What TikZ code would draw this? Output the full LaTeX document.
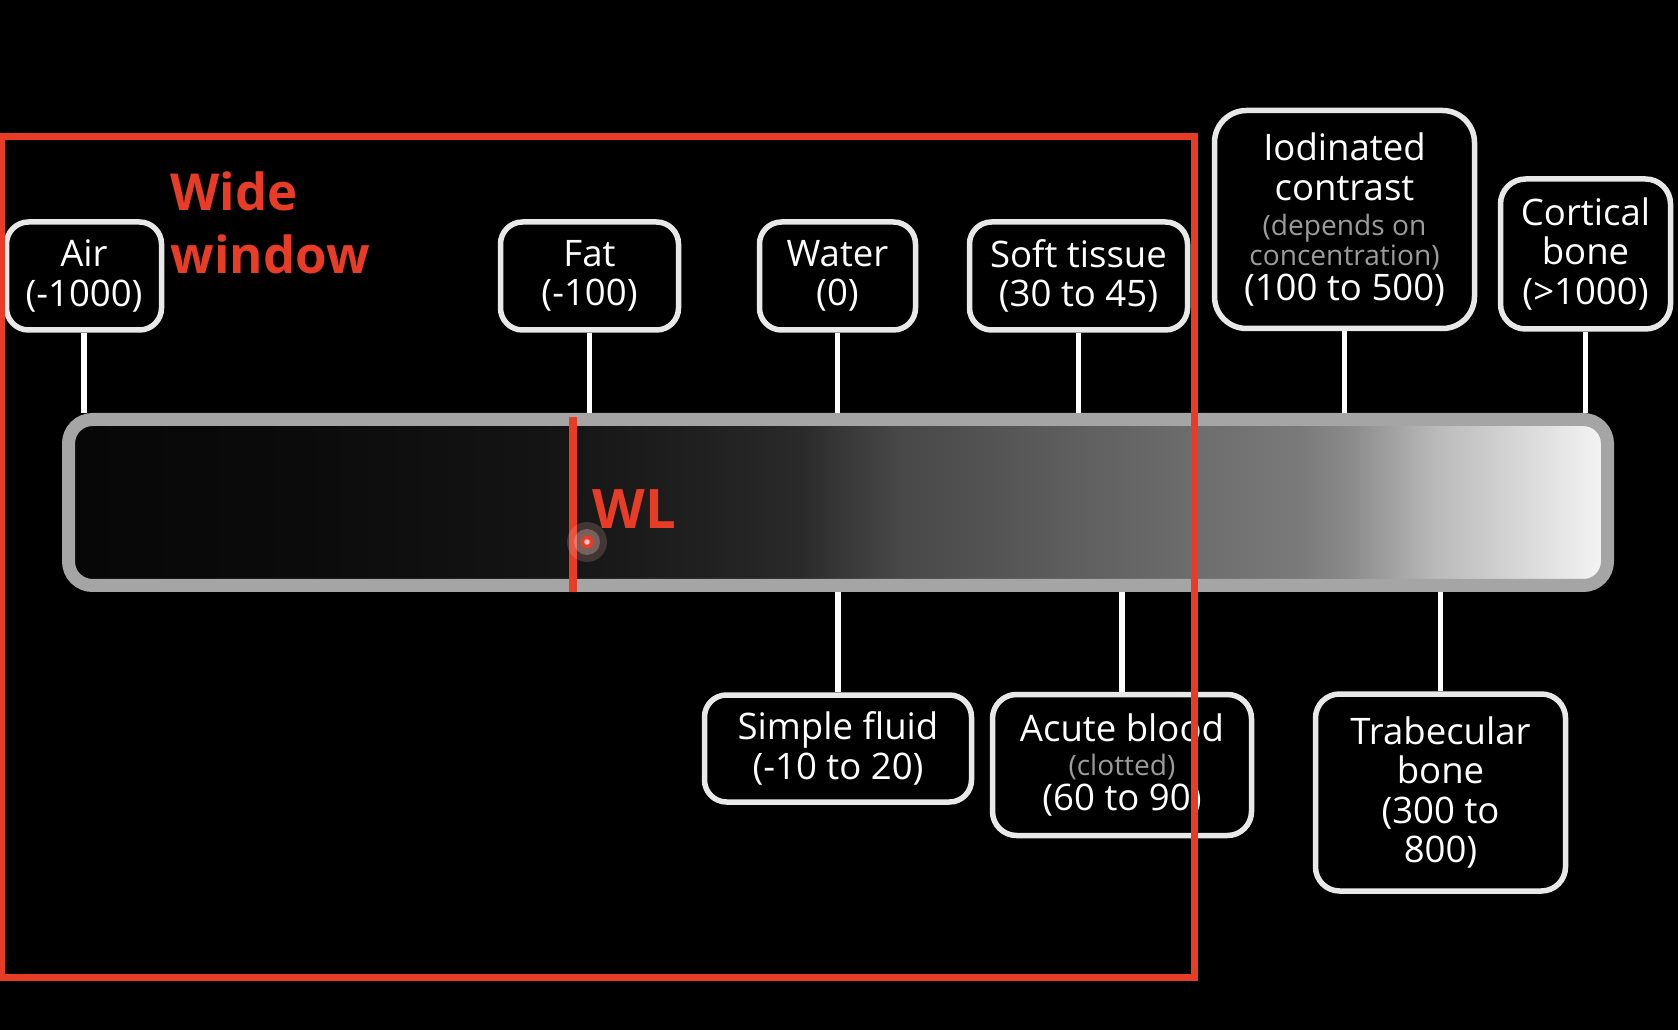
\documentclass[tikz,border=0pt]{standalone}
\usepackage{fontspec}
\setmainfont{Open Sans}
\usepackage{xcolor}
\usepackage{tikz}
\usetikzlibrary{calc}

\definecolor{winred}{RGB}{232,60,38}
\definecolor{boxline}{RGB}{232,232,232}
\definecolor{subgray}{RGB}{155,155,155}
\definecolor{bargray}{RGB}{165,165,165}

\newcommand{\boxfs}{\fontsize{10.4}{11.25}\selectfont}
\newcommand{\subfs}{\fontsize{8}{9}\selectfont\color{subgray}}

\pgfdeclarehorizontalshading{ctbar}{100bp}{rgb(0bp)=(0.027,0.027,0.027); rgb(25.2bp)=(0.027,0.027,0.027);
  rgb(32.5bp)=(0.043,0.043,0.043); rgb(40.3bp)=(0.078,0.078,0.078); rgb(45.5bp)=(0.125,0.125,0.125);
  rgb(48.8bp)=(0.165,0.165,0.165); rgb(50.4bp)=(0.227,0.227,0.227); rgb(52bp)=(0.282,0.282,0.282);
  rgb(55.3bp)=(0.333,0.333,0.333); rgb(58.5bp)=(0.384,0.384,0.384); rgb(61.8bp)=(0.431,0.431,0.431);
  rgb(65bp)=(0.478,0.478,0.478); rgb(66.6bp)=(0.541,0.541,0.541); rgb(68.2bp)=(0.647,0.647,0.647);
  rgb(69.5bp)=(0.733,0.733,0.733); rgb(71.5bp)=(0.816,0.816,0.816); rgb(74.8bp)=(0.955,0.955,0.955);
  rgb(100bp)=(0.955,0.955,0.955)}

\begin{document}
\begin{tikzpicture}[x=0.1mm, y=-0.1mm,
    hubox/.style={draw=boxline, line width=0.55mm, fill=black, text=white, rounded corners=2.2mm,
      align=center, inner sep=0pt, font=\boxfs},
    conn/.style={draw=white, line width=0.55mm},
    redtxt/.style={text=winred, inner sep=0pt, font=\bfseries\fontsize{14.5}{17.9}\selectfont}]
    \useasboundingbox (0,0) rectangle (1678,1030);
    \fill[black] (0,0) rectangle (1678,1030);

    % HU bar
    \node[draw=bargray, line width=1.3mm, rounded corners=2.4mm, shade, shading=ctbar,
      minimum width=153.9mm, minimum height=16.6mm, inner sep=0pt] (bar) at (838,502.5) {};

    % Top labels
    \node[hubox, minimum width=15.5mm, minimum height=10.8mm] (air) at (84,276) {Air\\(-1000)};
    \node[hubox, minimum width=17.8mm, minimum height=10.8mm] (fat) at (589.5,276) {Fat\\(-100)};
    \node[hubox, minimum width=15.6mm, minimum height=10.8mm] (water) at (837.5,276) {Water\\(0)};
    \node[hubox, minimum width=21.8mm, minimum height=10.8mm] (soft) at (1078.5,276) {Soft tissue\\(30 to 45)};
    \node[hubox, rounded corners=3.2mm, minimum width=26mm, minimum height=21.8mm] (iodine) at (1344.5,219.5)
      {Iodinated\\contrast\\[-1.3pt]{\subfs (depends on}\\[-2.8pt]{\subfs concentration)}\\[-1.3pt](100 to 500)};
    \node[hubox, rounded corners=2.5mm, minimum width=17mm, minimum height=15mm] (cortical) at (1585.5,254)
      {Cortical\\bone\\(>1000)};

    % Bottom labels
    \node[hubox, minimum width=26.7mm, minimum height=10.7mm] (fluid) at (838,748.5) {Simple fluid\\(-10 to 20)};
    \node[hubox, rounded corners=2.4mm, minimum width=25.9mm, minimum height=14.1mm] (blood) at (1122,765)
      {Acute blood\\[-1.5pt]{\subfs (clotted)}\\[-1.5pt](60 to 90)};
    \node[hubox, rounded corners=2.4mm, minimum width=25mm, minimum height=19.7mm] (trab) at (1440.5,792.5)
      {Trabecular\\bone\\(300 to\\800)};

    % Connectors
    \foreach \n in {air, fat, water, soft, iodine, cortical}
        \draw[conn] (\n.south) -- (\n.south |- bar.north);
    \foreach \n in {fluid, blood, trab}
        \draw[conn] (\n.north) -- (\n.north |- bar.south);

    % Window level
    \coordinate (wlx) at (573,0);
    \coordinate (wldot) at (587,542);
    \draw[winred, line width=0.75mm, shorten <=0.4mm] (wlx |- bar.north) -- (wlx |- bar.south);
    \fill[white!70!winred, opacity=0.18] (wldot) circle[radius=2mm];
    \fill[white!70!winred, opacity=0.3] (wldot) circle[radius=1.3mm];
    \fill[winred] (wldot) circle[radius=0.65mm];
    \fill[white!70!winred] (wldot) circle[radius=0.28mm];
    \node[redtxt, font=\bfseries\fontsize{15.5}{18}\selectfont, anchor=base west] (wl) at (592,529) {WL};

    % Wide window
    \draw[winred, line width=0.7mm] (1.5,136.5) rectangle (1194,977);
    \node[redtxt, align=left, anchor=north west] (wide) at (170,171) {Wide\\window};
\end{tikzpicture}
\end{document}
